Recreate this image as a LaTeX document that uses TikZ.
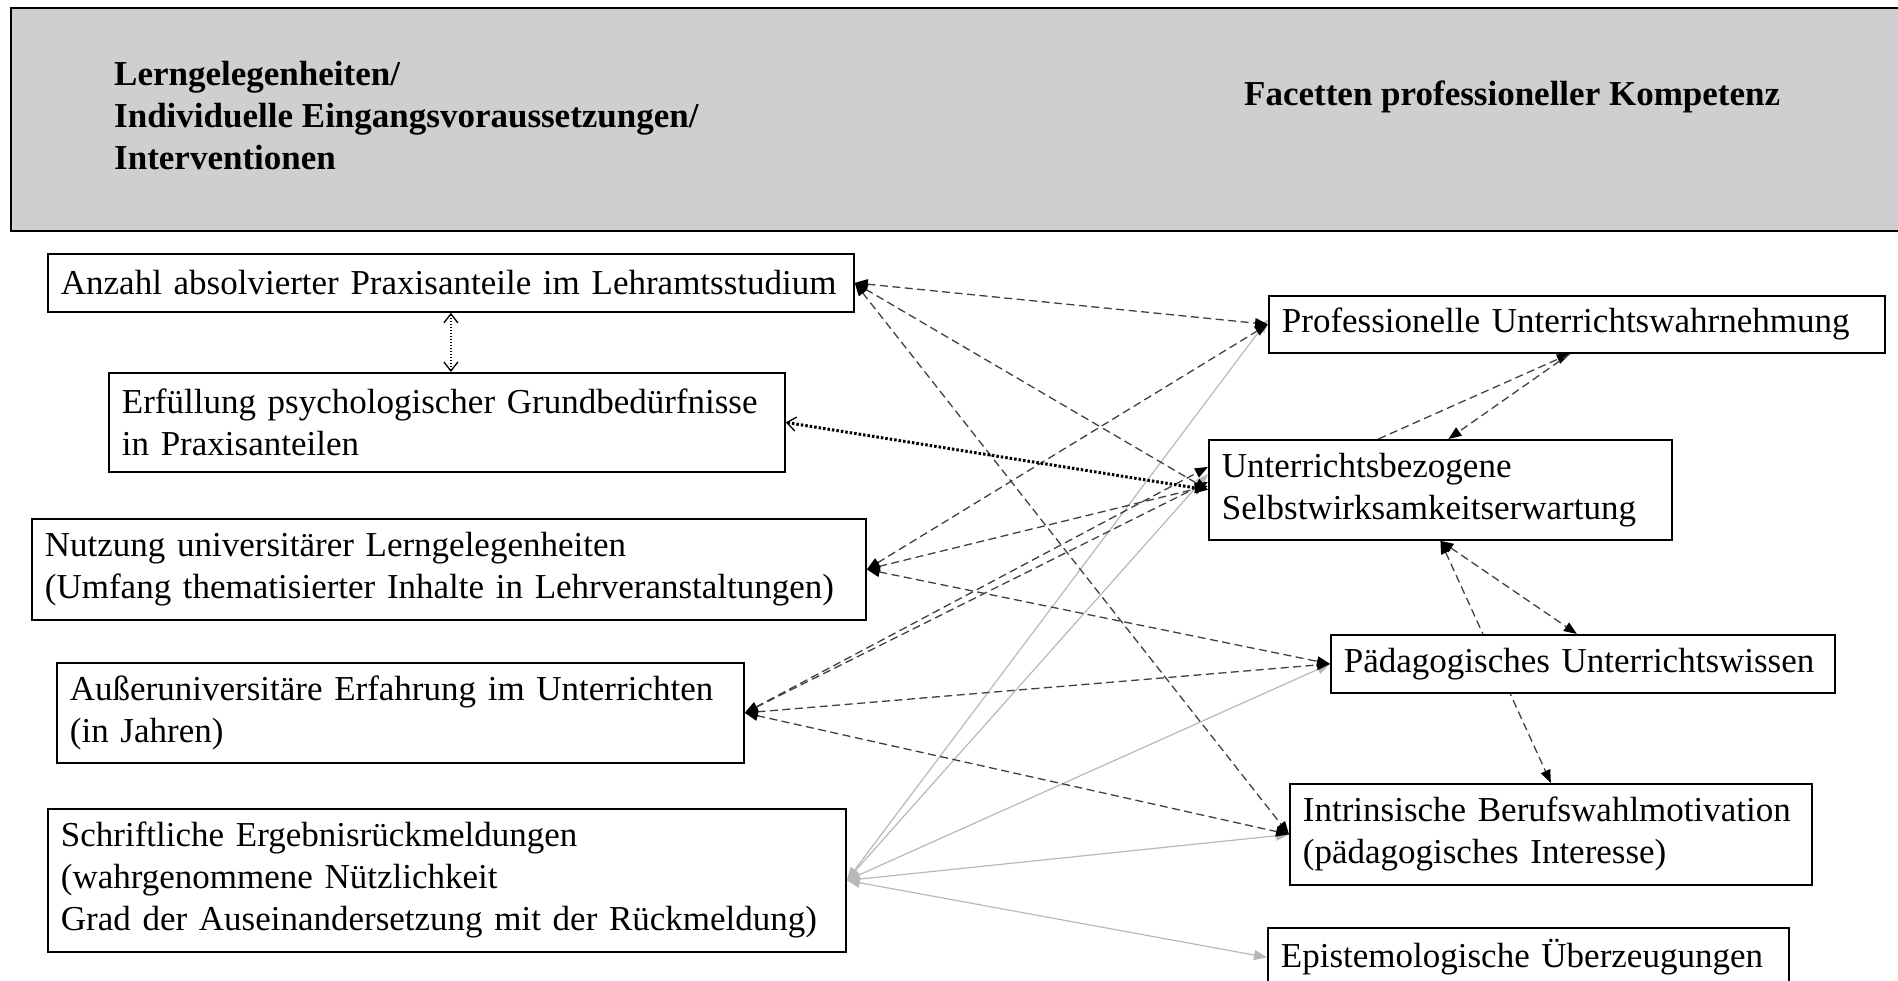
\documentclass[tikz,border=0pt]{standalone}
\usepackage{fontspec}
\setmainfont{Liberation Serif}
\usetikzlibrary{arrows.meta,backgrounds}
\definecolor{headgray}{RGB}{208,206,208}

\begin{document}
\begin{tikzpicture}[x=1pt,y=-1pt,
		>={Triangle[length=13pt,width=10pt,color=black]}]
	\tikzset{
		my box/.style={
				draw, line width=1.8pt, fill=white,
				anchor=north west, align=left,
				inner xsep=13pt, inner ysep=0pt,
				font=\fontsize{35}{42}\selectfont,
			},
		my link/.style={
				draw=black!75, line width=1.3pt,
				dash pattern=on 8pt off 4.5pt,
			},
		my dots/.style={
				draw=black, line width=1.4pt,
				dash pattern=on 1.4pt off 1.6pt,
				{Straight Barb[length=9pt,width=14pt,line width=1.3pt]}-{Straight Barb[length=9pt,width=14pt,line width=1.3pt]},
			},
		my gray/.style={
				draw=black!28, line width=1.2pt,
				{Triangle[length=13pt,width=10pt]}-{Triangle[length=13pt,width=10pt]},
			},
	}
	\useasboundingbox (0,0) rectangle (1898,981);
	% kopfzeile
	\draw[fill=headgray, line width=2pt] (11,8) rectangle (1920,231);
	\node[anchor=north west, inner sep=0pt, align=left,
		font=\bfseries\fontsize{35}{42}\selectfont] (head) at (114,61)
		{Lerngelegenheiten/\\Individuelle Eingangsvoraussetzungen/\\Interventionen};
	\node[anchor=base west, inner sep=0pt,
		font=\bfseries\fontsize{35}{42}\selectfont] (facet) at (1244,106)
		{Facetten professioneller Kompetenz};
	%
	\node[my box, text width=780pt, minimum height=58pt] (l1) at (47,253)
		{Anzahl absolvierter Praxisanteile im Lehramtsstudium};
	\node[my box, text width=650pt, minimum height=99pt] (l2) at (108,372)
		{Erfüllung psychologischer Grundbedürfnisse\\in Praxisanteilen};
	\node[my box, text width=808pt, minimum height=101pt] (l3) at (31,518)
		{Nutzung universitärer Lerngelegenheiten\\(Umfang thematisierter Inhalte in Lehrveranstaltungen)};
	\node[my box, text width=661pt, minimum height=100pt] (l4) at (56,662)
		{Außeruniversitäre Erfahrung im Unterrichten\\(in Jahren)};
	\node[my box, text width=772pt, minimum height=143pt] (l5) at (47,808)
		{Schriftliche Ergebnisrückmeldungen\\(wahrgenommene Nützlichkeit\\Grad der Auseinandersetzung mit der Rückmeldung)};
	%
	\node[my box, text width=590pt, minimum height=57pt] (r1) at (1268,295)
		{Professionelle Unterrichtswahrnehmung};
	\node[my box, text width=437pt, minimum height=100pt] (r2) at (1208,439)
		{Unterrichtsbezogene\\Selbstwirksamkeitserwartung};
	\node[my box, text width=478pt, minimum height=58pt] (r3) at (1330,634)
		{Pädagogisches Unterrichtswissen};
	\node[my box, text width=496pt, minimum height=101pt] (r4) at (1289,783)
		{Intrinsische Berufswahlmotivation\\(pädagogisches Interesse)};
	\node[my box, text width=495pt, minimum height=59pt] (r5) at (1267,927)
		{Epistemologische Überzeugungen};
	%
	\begin{scope}[on background layer]
		\draw[my gray] (l5.east) -- ([yshift=5pt]r1.west);
		\draw[my gray] (l5.east) -- ([yshift=16pt]r2.west);
		\draw[my gray] (l5.east) -- (r3.west);
		\draw[my gray] (l5.east) -- (r4.west);
		\draw[my gray] (l5.east) -- (r5.west);
		%
		\draw[my link, <->] (l1.east) -- (r1.west);
		\draw[my link, <->] (l1.east) -- (r2.west);
		\draw[my link, <->] (l1.east) -- (r4.west);
		\draw[my link, <->] (l3.east) -- (r1.west);
		\draw[my link, <->] (l3.east) -- ([yshift=4pt]r2.west);
		\draw[my link, <->] (l3.east) -- (r3.west);
		\draw[my link, <->] (l4.east) -- ([yshift=8pt]r2.west);
		\draw[my link, <->] (l4.east) -- ([yshift=23pt]r2.west);
		\draw[my link, <->] (l4.east) -- (r3.west);
		\draw[my link, <->] (l4.east) -- (r4.west);
		%
		\draw[my link, ->] ([xshift=-62pt]r2.north) -- ([xshift=-7pt]r1.south);
		\draw[my link, ->] ([xshift=-7pt]r1.south) -- ([xshift=8pt]r2.north);
		\draw[my link, <->] (r2.south) -- ([xshift=-6pt]r3.north);
		\draw[my link, <->] (r2.south) -- (r4.north);
		%
		\draw[my dots] (l1.south) -- (l1.south |- l2.north);
		\draw[my dots, line width=3pt, dash pattern=on 2.5pt off 2pt,
			{Straight Barb[length=9pt,width=14pt,line width=1.3pt]}->] (l2.east) -- (r2.west);
	\end{scope}
\end{tikzpicture}
\end{document}
